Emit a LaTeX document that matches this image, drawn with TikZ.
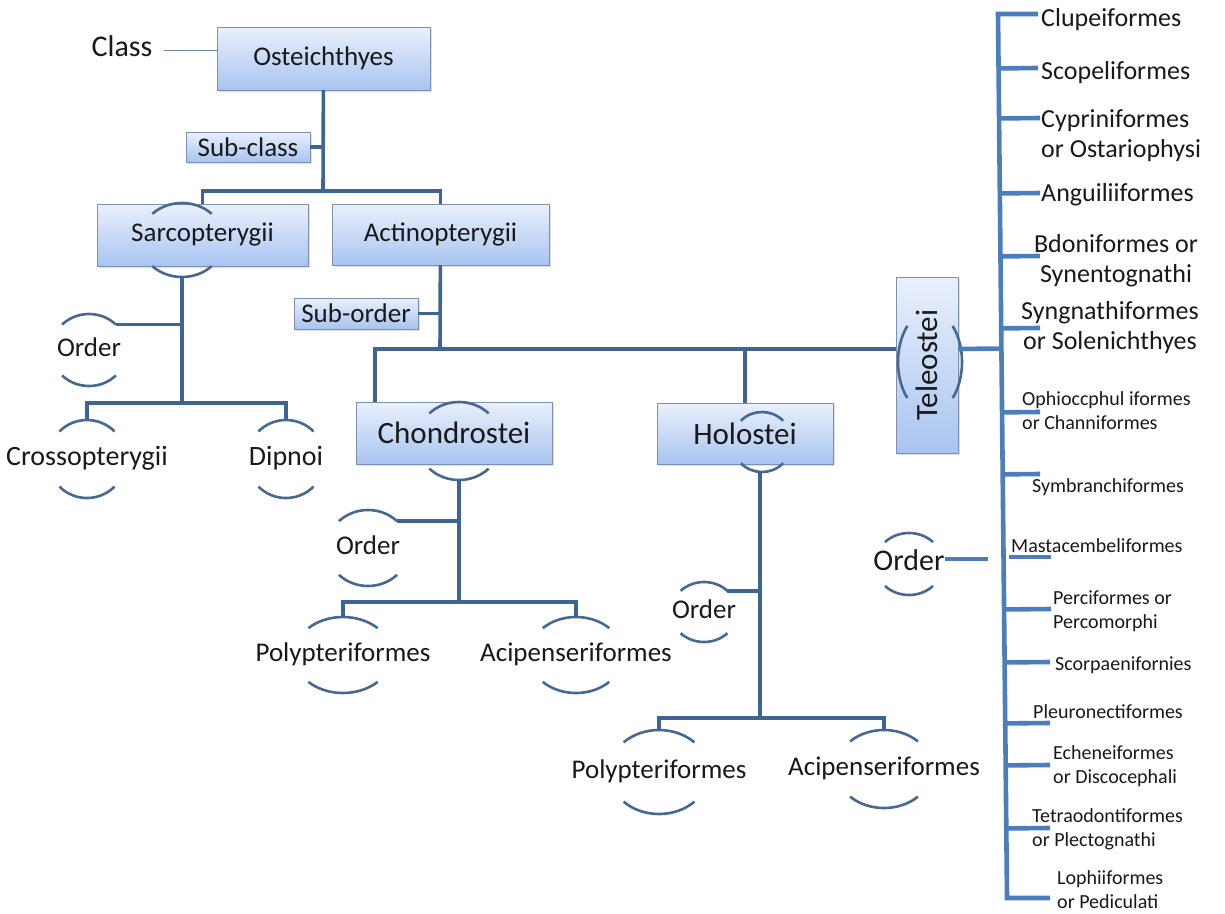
\documentclass[tikz,border=0pt]{standalone}
\usepackage{fontspec}
\setmainfont{Carlito}
\usetikzlibrary{calc,shadows}
\definecolor{treeline}{RGB}{62,100,148}
\definecolor{spineblue}{RGB}{76,126,190}
\definecolor{arcblue}{RGB}{70,104,145}
\definecolor{boxtop}{RGB}{234,240,252}
\definecolor{boxbot}{RGB}{168,196,240}
\definecolor{boxedge}{RGB}{125,145,175}
\definecolor{ink}{RGB}{25,25,25}
% the two bracket arcs drawn round a label
\newcommand{\ordarcs}[3]{%
  \draw[brace] #1 ++(45:#2 and #3) arc[start angle=45,end angle=135,x radius=#2,y radius=#3]
               #1 ++(225:#2 and #3) arc[start angle=225,end angle=315,x radius=#2,y radius=#3];}

\begin{document}
\begin{tikzpicture}[x=1pt,y=-1pt,
  taxon/.style={draw=boxedge,top color=boxtop,bottom color=boxbot,inner sep=0pt,text=ink,
    drop shadow={shadow xshift=2pt,shadow yshift=-2pt,opacity=0.25}},
  font27/.style={font=\fontsize{27}{30}\selectfont},
  font31/.style={font=\fontsize{31}{34}\selectfont},
  word/.style={inner sep=0pt,text=ink,text height=19pt,text depth=6pt},
  bigname/.style={inner sep=0pt,text=ink,anchor=west,align=left,font=\fontsize{26}{30}\selectfont},
  smallname/.style={inner sep=0pt,text=ink,anchor=west,align=left,font=\fontsize{20}{24}\selectfont},
  link/.style={draw=treeline,line width=3.6pt},
  spine/.style={draw=spineblue,line width=4.6pt},
  brace/.style={draw=arcblue,line width=2.6pt},
  classline/.style={draw=arcblue!80,line width=1pt}]
\fill[white] (0,0) rectangle (1225,913);
\useasboundingbox (0,0) rectangle (1225,913);

% boxes
\node[word,font=\fontsize{30}{33}\selectfont] (class) at (122,50) {Class};
\node[taxon,font27,minimum width=213pt,minimum height=63pt] (ost) at (323.5,58.5) {Osteichthyes};
\node[taxon,font27,minimum width=124pt,minimum height=30pt] (subcl) at (248,147) {Sub-class};
\node[taxon,font27,minimum width=211pt,minimum height=62pt] (sarco) at (202.5,235) {Sarcopterygii};
\node[taxon,font27,minimum width=217pt,minimum height=61pt] (actino) at (440.5,234.5) {Actinopterygii};
\node[taxon,font27,minimum width=124pt,minimum height=31pt] (subord) at (356,313.5) {Sub-order};
\node[taxon,font31,minimum width=196pt,minimum height=62pt] (chond) at (454,433) {Chondrostei};
\node[taxon,font31,minimum width=176pt,minimum height=61pt] (holo) at (745,433.5) {Holostei};
\node[taxon,font31,rotate=90,minimum width=176pt,minimum height=62pt] (tele) at (927,365) {Teleostei};

% orders
\node[word,font27] (ordA) at (89,350) {Order};
\node[word,font=\fontsize{28}{30}\selectfont] (cross) at (87,459) {Crossopterygii};
\node[word,font=\fontsize{28}{30}\selectfont] (dip) at (286,459) {Dipnoi};
\node[word,font27] (ordB) at (368,548) {Order};
\node[word,font27] (polyA) at (343,655) {Polypteriformes};
\node[word,font27] (aciA) at (576,655) {Acipenseriformes};
\node[word,font27] (ordC) at (704,612) {Order};
\node[word,font27] (polyB) at (659,772) {Polypteriformes};
\node[word,font27] (aciB) at (884,769) {Acipenseriformes};
\node[word,font=\fontsize{30}{33}\selectfont] (ordD) at (909,564) {Order};

% teleost orders
\node[bigname] (clu) at (1041,20) {Clupeiformes};
\node[bigname] (scop) at (1041,73) {Scopeliformes};
\node[bigname] (cyp) at (1041,136) {Cypriniformes\\or Ostariophysi};
\node[bigname] (ang) at (1041,195) {Anguiliiformes};
\node[bigname,anchor=center,align=center] (bdo) at (1116,261) {Bdoniformes or\\Synentognathi};
\node[bigname,anchor=center,align=center] (syn) at (1110,328) {Syngnathiformes\\or Solenichthyes};
\node[smallname] (oph) at (1022,411) {Ophioccphul iformes\\or Channiformes};
\node[smallname] (sym) at (1032,487) {Symbranchiformes};
\node[smallname] (mas) at (1011,546) {Mastacembeliformes};
\node[smallname] (per) at (1053,611) {Perciformes or\\Percomorphi};
\node[smallname] (scor) at (1055,665) {Scorpaenifornies};
\node[smallname] (pleu) at (1033,712) {Pleuronectiformes};
\node[smallname] (eche) at (1053,766) {Echeneiformes\\or Discocephali};
\node[smallname] (tetra) at (1032,829) {Tetraodontiformes\\or Plectognathi};
\node[smallname] (loph) at (1057,890) {Lophiiformes\\or Pediculati};

% brackets
\ordarcs{(182,240)}{42pt}{37pt}
\ordarcs{(459,441)}{42pt}{39pt}
\ordarcs{(762,442)}{30pt}{30pt}
\ordarcs{(ordA.center)}{38pt}{36pt}
\ordarcs{(cross.center)}{39pt}{39pt}
\ordarcs{(dip.center)}{39pt}{39pt}
\ordarcs{(ordB.center)}{41pt}{38pt}
\ordarcs{(polyA.center)}{49pt}{38pt}
\ordarcs{(aciA.center)}{47pt}{38pt}
\ordarcs{(ordC.center)}{33pt}{30pt}
\ordarcs{(polyB.center)}{50pt}{42pt}
\ordarcs{(aciB.center)}{48pt}{39pt}
\ordarcs{(ordD.center)}{34pt}{31pt}
\draw[brace] (930,362) ++(135:32pt and 51pt) arc[start angle=135,end angle=225,x radius=32pt,y radius=51pt]
             (930,362) ++(-45:32pt and 51pt) arc[start angle=-45,end angle=45,x radius=32pt,y radius=51pt];

% class
\draw[classline] ([xshift=11pt]class.east) -- (class.east -| ost.west);
\coordinate (jost) at (323,191);
\draw[link] (ost) -- (jost);
\draw[link] (subcl) -- (subcl -| jost);
\draw[link] (sarco) |- (jost) -| (actino);

% Sarcopterygii
\coordinate (sarcoK) at (182,277);
\coordinate (jsar) at (182,403);
\draw[link] (sarcoK) -- (jsar);
\draw[link] (ordA.center) ++(45:38pt and 36pt) coordinate (ordAk) -- (ordAk -| jsar);
\draw[link] ([yshift=39pt]cross.center) |- (jsar) -| ([yshift=39pt]dip.center);

% Actinopterygii
\coordinate (jact) at (440,349);
\draw[link] (actino) -- (jact);
\draw[link] (subord) -- (subord -| jact);
\draw[link] ([xshift=19pt]chond.north west) |- ([yshift=16pt]tele.north);
\draw[link] (holo) -- (holo |- jact);

% Chondrostei
\coordinate (chondK) at (459,480);
\coordinate (jcho) at (459,602);
\draw[link] (chondK) -- (jcho);
\draw[link] (ordB.center) ++(45:41pt and 38pt) coordinate (ordBk) -- (ordBk -| jcho);
\draw[link] ([yshift=38pt]polyA.center) |- (jcho) -| ([yshift=38pt]aciA.center);

% Holostei
\coordinate (holoK) at (760,472);
\coordinate (jhol) at (760,718);
\draw[link] (holoK) -- (jhol);
\draw[link] (ordC.center) ++(45:33pt and 30pt) coordinate (ordCk) -- (ordCk -| jhol);
\draw[link] ([yshift=42pt]polyB.center) |- (jhol) -| ([yshift=39pt]aciB.center);

% Teleostei
\coordinate (sptop) at (998,14);
\coordinate (spbot) at (1007,898);
\coordinate (tip-clu) at (1038,14);
\coordinate (tip-loph) at (1050,898);
\draw[spine] (tip-clu) -- (sptop) -- (spbot) -- (tip-loph);
\coordinate (tele-r) at ([yshift=16pt]tele.south);
\draw[spine] (tele-r) -- ($(sptop)!(tele-r)!(spbot)$);
\foreach \n/\y/\e in {scop/68/1038,cyp/118/1040,ang/193/1040,bdo/256/1040,syn/328/1040,
    oph/412/1040,sym/474/1040,per/609/1051,scor/662/1050,pleu/723/1050,eche/765/1050,tetra/828/1050} {
  \coordinate (tip-\n) at (\e,\y);
  \draw[spine] ($(sptop)!(tip-\n)!(spbot)$) -- (tip-\n);
}
\coordinate (tip-mas) at (1051,557);
\draw[spine] ([xshift=-2pt]tip-mas -| mas.west) -- (tip-mas);
\coordinate (tip-ord) at (988,559);
\draw[spine] (ordD.east |- tip-ord) -- (tip-ord);
\end{tikzpicture}
\end{document}
